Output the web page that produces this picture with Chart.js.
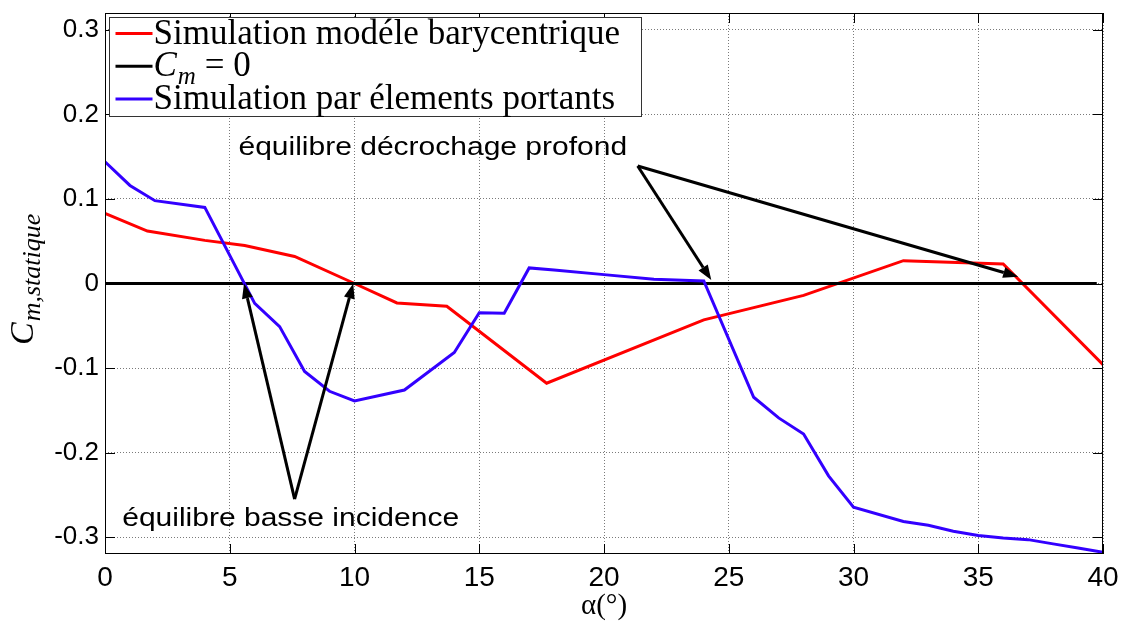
<!DOCTYPE html>
<html lang="fr">
<head>
<meta charset="UTF-8">
<title>Cm statique</title>
<script src="https://cdn.jsdelivr.net/npm/chart.js"></script>
<style>
  body { margin: 0; background: #fff; }
  #wrap { width: 1122px; height: 626px; }
</style>
</head>
<body>
<div id="wrap"><canvas id="cm"></canvas></div>
<script>
// axes
const xTicks = [0, 5, 10, 15, 20, 25, 30, 35, 40];
const yTicks = [-0.3, -0.2, -0.1, 0, 0.1, 0.2, 0.3];

// modèle barycentrique
const baryAlpha = [0, 1.7, 4, 5.6, 7.6, 10, 11.7, 13.7, 17.7, 24, 28, 32, 36, 40];
const baryCm = [0.083, 0.062, 0.051, 0.045, 0.032, 0, -0.023, -0.027, -0.118, -0.043, -0.014, 0.027, 0.023, -0.096];

// Cm = 0
const zeroAlpha = [0, 39.75];
const zeroCm = [0, 0];

// éléments portants
const elemAlpha = [0, 1, 2, 4, 6, 7, 8, 9, 10, 12, 14, 15, 16, 17, 18, 20, 22, 24, 26, 27, 28, 29, 30, 32, 33, 34, 35, 36, 37, 38, 39, 40];
const elemCm = [0.144, 0.116, 0.098, 0.090, -0.0235, -0.051, -0.104, -0.1275, -0.139, -0.126, -0.0816, -0.0346, -0.0353, 0.0184, 0.016, 0.0105, 0.005, 0.003, -0.1346, -0.159, -0.178, -0.2275, -0.2647, -0.2816, -0.286, -0.293, -0.298, -0.301, -0.303, -0.308, -0.313, -0.318];

const seriesNames = ['Simulation modéle barycentrique', 'C_m = 0', 'Simulation par élements portants'];
const seriesColors = ['#ff0000', '#000000', '#3300ff'];

// annotations (data coords)
const notes = [
  { text: 'équilibre décrochage profond', at: [5.35, 0.152], from: [21.35, 0.139], to: [[24.3, 0.004], [36.6, 0.008]] },
  { text: 'équilibre basse incidence', at: [0.69, -0.2863], from: [7.6, -0.255], to: [[5.57, 0], [9.95, 0]] }
];

const pts = (xs, ys) => xs.map((x, i) => ({ x: x, y: ys[i] }));

function arrow(ctx, x0, y0, x1, y1) {
  const a = Math.atan2(y1 - y0, x1 - x0), L = 15, W = 5.5;
  const bx = x1 - L * Math.cos(a), by = y1 - L * Math.sin(a);
  ctx.beginPath(); ctx.moveTo(x0, y0); ctx.lineTo(bx, by); ctx.stroke();
  ctx.beginPath(); ctx.moveTo(x1, y1);
  ctx.lineTo(bx + W * Math.sin(a), by - W * Math.cos(a));
  ctx.lineTo(bx - W * Math.sin(a), by + W * Math.cos(a));
  ctx.closePath(); ctx.fill();
}

// C with italic subscript, then upright rest
function subText(ctx, x, y, base, sub, rest, size, subSize) {
  ctx.font = 'italic ' + size + 'px "Liberation Serif"';
  ctx.fillText(base, x, y);
  x += ctx.measureText(base).width + 1;
  ctx.font = 'italic ' + subSize + 'px "Liberation Serif"';
  ctx.fillText(sub, x, y + size * 0.22);
  x += ctx.measureText(sub).width;
  if (rest) {
    ctx.font = size + 'px "Liberation Serif"';
    ctx.fillText(rest, x, y);
  }
}

const extras = {
  id: 'extras',
  afterDatasetsDraw(chart) {
    const { ctx, chartArea: a, scales: { x, y } } = chart;
    const px = p => [x.getPixelForValue(p[0]), y.getPixelForValue(p[1])];
    ctx.save();
    ctx.setLineDash([]);

    // box + inward ticks
    ctx.strokeStyle = '#000';
    ctx.lineWidth = 1;
    ctx.strokeRect(a.left + 0.5, a.top + 0.5, a.width - 1, a.height - 1);
    ctx.beginPath();
    xTicks.forEach(v => {
      const p = Math.round(x.getPixelForValue(v)) + 0.5;
      ctx.moveTo(p, a.bottom); ctx.lineTo(p, a.bottom - 10);
      ctx.moveTo(p, a.top); ctx.lineTo(p, a.top + 10);
    });
    yTicks.forEach(v => {
      const p = Math.round(y.getPixelForValue(v)) + 0.5;
      ctx.moveTo(a.left, p); ctx.lineTo(a.left + 10, p);
      ctx.moveTo(a.right, p); ctx.lineTo(a.right - 10, p);
    });
    ctx.stroke();

    // arrows + notes
    ctx.strokeStyle = '#000';
    ctx.fillStyle = '#000';
    ctx.lineWidth = 3;
    notes.forEach(n => {
      const f = px(n.from);
      n.to.forEach(t => { const e = px(t); arrow(ctx, f[0], f[1], e[0], e[1]); });
      const p = px(n.at);
      ctx.save();
      ctx.translate(p[0], p[1]);
      ctx.scale(1.2, 1);
      ctx.font = '25px "Liberation Sans", Arial, sans-serif';
      ctx.textBaseline = 'alphabetic';
      ctx.fillText(n.text, 0, 0);
      ctx.restore();
    });

    // legend
    const lx = a.left + 4.5, ly = a.top + 4.5;
    ctx.lineWidth = 1;
    ctx.fillStyle = '#fff';
    ctx.fillRect(lx, ly, 532, 99);
    ctx.strokeStyle = '#333';
    ctx.strokeRect(lx, ly, 532, 99);
    chart.data.datasets.forEach((ds, i) => {
      const rowY = ly + 16 + i * 32.8;
      ctx.strokeStyle = ds.borderColor;
      ctx.lineWidth = 3;
      ctx.beginPath(); ctx.moveTo(lx + 6, rowY); ctx.lineTo(lx + 43, rowY); ctx.stroke();
      ctx.fillStyle = '#000';
      ctx.textBaseline = 'alphabetic';
      const m = ds.label.match(/^(\w)_(\w+)(.*)$/);
      if (m) {
        subText(ctx, lx + 44, rowY + 10, m[1], m[2], m[3], 35, 25);
      } else {
        ctx.font = '35px "Liberation Serif", serif';
        ctx.fillText(ds.label, lx + 44, rowY + 10);
      }
    });

    // y axis title
    ctx.save();
    ctx.translate(33, 345);
    ctx.rotate(-Math.PI / 2);
    ctx.fillStyle = '#000';
    subText(ctx, 0, 0, 'C', 'm,statique', '', 34, 26);
    ctx.restore();

    ctx.restore();
  }
};

const line = (i, xs, ys, order) => ({
  label: seriesNames[i],
  data: pts(xs, ys),
  borderColor: seriesColors[i],
  backgroundColor: seriesColors[i],
  borderWidth: 3,
  pointRadius: 0,
  tension: 0,
  order: order
});

new Chart(document.getElementById('cm'), {
  type: 'line',
  data: {
    datasets: [
      line(0, baryAlpha, baryCm, 3),
      line(1, zeroAlpha, zeroCm, 2),
      line(2, elemAlpha, elemCm, 1)
    ]
  },
  options: {
    responsive: true,
    maintainAspectRatio: false,
    animation: false,
    layout: { padding: { top: 13, right: 19, left: 0, bottom: 0 } },
    plugins: { legend: { display: false }, tooltip: { enabled: false } },
    scales: {
      x: {
        type: 'linear', min: 0, max: 40,
        afterBuildTicks: s => { s.ticks = xTicks.map(v => ({ value: v })); },
        afterFit: s => { s.height = 72; s.paddingLeft = 0; s.paddingRight = 0; },
        ticks: { autoSkip: false, maxRotation: 0, padding: 7, color: '#000',
                 font: { family: '"Liberation Sans", Arial, sans-serif', size: 28 } },
        grid: { color: '#7a7a7a', lineWidth: 1, drawTicks: false },
        border: { display: false, dash: [1, 2] },
        title: { display: true, text: 'α(°)', color: '#000',
                 font: { family: '"Liberation Serif", serif', size: 29 },
                 padding: { top: 0, bottom: 2 } }
      },
      y: {
        type: 'linear', min: -0.32, max: 0.32,
        afterBuildTicks: s => { s.ticks = yTicks.map(v => ({ value: v })); },
        afterFit: s => { s.width = 105; s.paddingTop = 0; s.paddingBottom = 0; },
        ticks: { padding: 6, color: '#000',
                 callback: v => (v === 0 ? '0' : v.toFixed(1)),
                 font: { family: '"Liberation Sans", Arial, sans-serif', size: 26 } },
        grid: { color: '#7a7a7a', lineWidth: 1, drawTicks: false },
        border: { display: false, dash: [1, 2] }
      }
    }
  },
  plugins: [extras]
});
</script>
</body>
</html>
